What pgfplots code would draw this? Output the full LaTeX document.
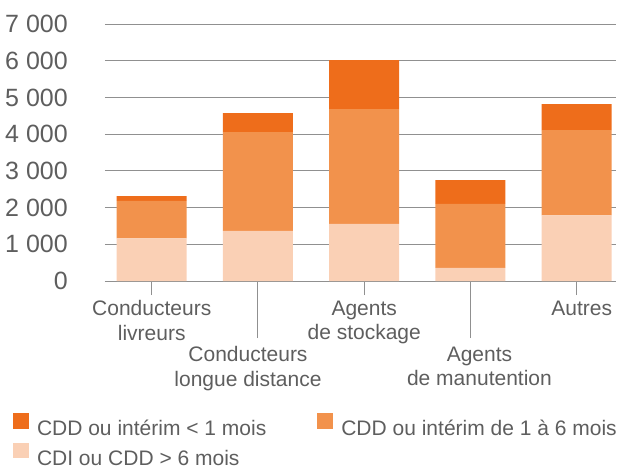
\documentclass[border=0pt]{standalone}
\usepackage{fontspec}
\setmainfont{Liberation Sans}
\usepackage{pgfplots}
\pgfplotsset{compat=1.18}
\definecolor{cdark}{HTML}{EE6D1B}
\definecolor{cmid}{HTML}{F2924C}
\definecolor{clight}{HTML}{FAD0B5}
\definecolor{ctext}{HTML}{5E5E5E}
\definecolor{cgrid}{HTML}{909090}
\begin{document}
\begin{tikzpicture}
\useasboundingbox (-105pt,-186pt) rectangle (514pt,281pt);
\begin{axis}[
  at={(0pt,0pt)}, anchor=south west,
  scale only axis, width=511pt, height=257pt,
  xmin=-0.44, xmax=4.37, ymin=0, ymax=7000,
  ybar stacked, bar width=70pt,
  axis lines*=left,
  y axis line style={draw=none},
  x axis line style={draw=cgrid, line width=1pt},
  ymajorgrids, major grid style={draw=cgrid, line width=1pt},
  ytick={0,1000,...,7000},
  ytick style={draw=none},
  tick align=outside,
  major tick length=14pt,
  xtick={0,2,4},
  xticklabels={{Conducteurs\\livreurs},{Agents\\de stockage},{\hspace*{10pt}Autres}},
  extra x ticks={1,3},
  extra x tick labels={{\hspace*{-20pt}Conducteurs\\\hspace*{-20pt}longue distance},{\hspace*{18pt}Agents\\\hspace*{18pt}de manutention}},
  xtick style={draw=cgrid, line width=1pt},
  extra x tick style={major tick length=57pt, xtick style={draw=cgrid, line width=1pt},
    xticklabel style={yshift=-3pt}},
  xticklabel style={font=\fontsize{21}{24.3}\selectfont, text=ctext, align=center, inner sep=0pt, yshift=-5.5pt},
  yticklabel style={font=\fontsize{25}{28}\selectfont, text=ctext, inner sep=0pt, anchor=east, xshift=-23pt},
  /pgf/number format/assume math mode=true,
  /pgf/number format/1000 sep={\ },
  reverse legend,
  legend columns=2,
  legend image code/.code={\fill[#1,/tikz/.cd] (0pt,0pt) rectangle (15.5pt,15.5pt);},
  legend style={at={(axis description cs:-0.18,-0.5136)}, anchor=north west,
    draw=none, fill=none, inner sep=0pt, outer sep=0pt,
    font=\fontsize{21}{24}\selectfont, text=ctext,
    nodes={inner sep=0pt}, row sep=6pt,
    /tikz/every odd column/.style={column sep=8.5pt},
    /tikz/every even column/.style={column sep=51pt}},
  legend cell align=left,
]
\addplot[fill=clight, draw=none] coordinates {(0,1160) (1,1365) (2,1555) (3,355) (4,1790)};
\addplot[fill=cmid, draw=none] coordinates {(0,1020) (1,2690) (2,3125) (3,1745) (4,2320)};
\addplot[fill=cdark, draw=none] coordinates {(0,130) (1,520) (2,1335) (3,645) (4,710)};
\legend{CDI ou CDD > 6 mois, CDD ou intérim de 1 à 6 mois, CDD ou intérim < 1 mois}
\end{axis}
\end{tikzpicture}
\end{document}
